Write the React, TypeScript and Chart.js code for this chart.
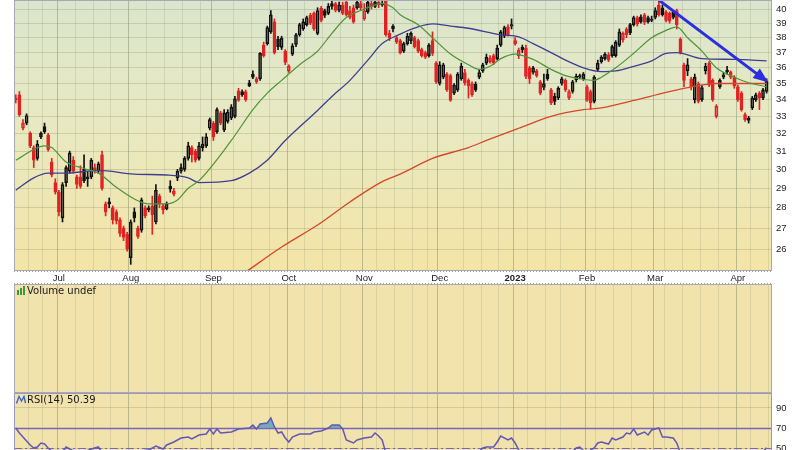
import React, { useEffect, useRef } from 'react';
import { Chart, registerables } from 'chart.js';

Chart.register(...registerables);

// ---------------- data ----------------
const startDate = '2022-06-14';
const marketHolidays = ['2022-06-20', '2022-07-04', '2022-09-05', '2022-11-24', '2022-12-26', '2023-01-02', '2023-01-16', '2023-02-20', '2023-04-07'];
const slotCount = 211;
const monthTickLabels = ['Jul', 'Aug', 'Sep', 'Oct', 'Nov', 'Dec', '2023', 'Feb', 'Mar', 'Apr'];
const priceTicks = [26, 27, 28, 29, 30, 31, 32, 33, 34, 35, 36, 37, 38, 39, 40];
const priceMin = 25;
const priceMax = 40.66;
const rsiTicks = [90, 70, 50, 30, 10];
const rsiUpper = 70;
const rsiMid = 50;
const rsiMin = -5;
const rsiMax = 105;
const volumeTitle = 'Volume undef';
const rsiTitle = 'RSI(14) 50.39';

const opens = [
  34.1, 34.3, 32.3, 32.6, 32.0, 31.2, 30.6, 31.8, 32.4, 31.9,
  30.4, 29.3, 28.8, 27.5, 29.3, 29.9, 30.5, 29.6, 29.6, 30.0,
  29.6, 29.6, 30.1, 29.9, 30.8, 28.2, 28.3, 28.0, 27.8, 27.4,
  27.0, 26.7, 25.6, 27.8, 27.0, 26.9, 28.0, 28.0, 28.1, 27.3,
  28.6, 28.1, 27.95, 29.1, 28.7, 29.55, 29.9, 30.0, 30.6, 31.2,
  31.0, 30.6, 31.2, 31.3, 32.3, 32.6, 32.1, 33.2, 32.2, 32.7,
  32.9, 33.0, 34.55, 34.5, 34.5, 35.05, 35.4, 35.3, 35.3, 37.5,
  37.6, 38.4, 39.1, 37.9, 37.35, 37.1, 35.8, 36.9, 37.55, 38.2,
  38.6, 38.9, 39.55, 39.7, 38.3, 40.05, 39.9, 39.7, 40.2, 40.4,
  39.9, 40.3, 40.5, 39.9, 40.1, 40.1, 40.4, 39.3, 39.8, 40.4,
  40.2, 40.5, 40.3, 40.6, 38.3, 38.8, 38.0, 37.8, 37.1, 37.6,
  37.8, 38.0, 37.8, 37.2, 37.0, 36.8, 37.8, 36.3, 35.0, 35.4,
  35.6, 35.5, 34.4, 34.6, 35.3, 35.7, 35.2, 35.0, 34.95, 35.4,
  35.8, 36.3, 36.4, 36.8, 36.6, 37.5, 38.1, 38.75, 38.8, 37.6,
  36.8, 37.35, 37.3, 36.0, 35.7, 35.8, 35.1, 34.75, 35.6, 34.6,
  34.2, 34.1, 35.0, 35.2, 34.1, 34.5, 35.45, 35.4, 35.3, 34.8,
  34.5, 33.9, 35.9, 36.4, 36.6, 36.85, 36.8, 36.8, 37.5, 37.85,
  38.6, 38.9, 38.9, 39.4, 39.45, 39.6, 39.4, 39.2, 39.4, 40.3,
  40.1, 39.8, 39.7, 39.8, 39.9, 37.9, 36.2, 35.8, 35.3, 34.0,
  35.0, 34.0, 35.8, 36.3, 35.2, 33.0, 34.8, 35.4, 35.85, 35.75,
  35.4, 34.8, 34.4, 33.1, 32.75, 33.5, 34.0, 34.4, 34.1, 34.5,
];
const highs = [
  34.3, 34.5, 32.8, 33.15, 32.1, 31.3, 31.6, 32.1, 32.6, 32.0,
  30.6, 29.5, 28.9, 29.3, 30.2, 31.0, 30.7, 29.7, 30.2, 30.8,
  29.9, 30.6, 30.3, 30.4, 31.0, 28.3, 28.5, 28.1, 27.9, 27.5,
  27.1, 26.8, 27.4, 28.0, 27.1, 28.5, 28.1, 28.1, 28.6, 29.2,
  28.7, 28.2, 28.3, 29.4, 29.0, 30.0, 30.3, 30.7, 31.5, 31.3,
  31.1, 31.5, 31.8, 32.0, 32.9, 32.7, 33.5, 33.3, 33.4, 33.4,
  33.7, 34.2, 34.7, 34.6, 34.6, 35.2, 35.8, 35.4, 37.0, 37.7,
  38.8, 39.9, 39.3, 38.1, 38.1, 37.2, 36.2, 37.6, 38.3, 39.0,
  39.3, 39.5, 39.7, 39.8, 40.1, 40.2, 40.0, 40.4, 40.6, 40.5,
  40.5, 40.5, 40.7, 40.2, 40.3, 40.7, 40.6, 40.4, 40.7, 40.6,
  40.7, 40.7, 40.7, 40.7, 38.5, 38.9, 38.1, 37.9, 37.7, 38.3,
  38.4, 38.1, 37.9, 37.3, 37.1, 37.6, 38.4, 36.4, 36.4, 36.3,
  35.7, 35.6, 35.0, 35.7, 36.3, 35.9, 35.3, 35.1, 35.1, 35.9,
  36.3, 36.9, 36.8, 36.9, 37.5, 38.5, 38.8, 38.9, 39.3, 38.0,
  37.3, 37.5, 37.5, 36.1, 36.1, 35.9, 35.2, 35.6, 35.9, 34.7,
  34.4, 34.8, 35.4, 35.3, 34.6, 35.2, 35.6, 35.6, 35.7, 34.9,
  34.6, 35.5, 36.5, 36.8, 37.0, 37.0, 37.5, 37.8, 38.6, 38.4,
  38.7, 39.0, 39.5, 39.5, 39.6, 39.7, 39.5, 39.5, 40.1, 40.65,
  40.3, 39.9, 39.8, 39.9, 40.0, 38.0, 36.3, 36.6, 35.4, 35.6,
  35.1, 34.9, 36.3, 36.4, 35.3, 33.7, 35.3, 35.7, 36.1, 35.8,
  35.5, 34.9, 34.5, 33.2, 33.0, 34.2, 34.4, 34.5, 34.7, 35.3,
];
const lows = [
  33.8, 33.0, 32.2, 32.5, 31.2, 30.1, 30.5, 31.7, 32.0, 31.0,
  29.6, 28.7, 27.6, 27.3, 29.1, 29.8, 29.8, 29.0, 29.0, 29.3,
  29.1, 29.5, 29.8, 29.8, 28.9, 27.6, 28.0, 27.2, 27.2, 26.6,
  26.4, 25.9, 25.3, 27.3, 26.5, 26.8, 27.5, 27.8, 26.7, 27.2,
  28.0, 27.7, 27.9, 28.8, 28.6, 29.4, 29.8, 29.9, 30.5, 30.4,
  30.4, 30.5, 31.0, 31.2, 32.2, 31.6, 32.0, 32.5, 32.1, 32.6,
  32.8, 32.9, 33.9, 34.2, 33.9, 34.8, 35.3, 35.0, 35.2, 36.7,
  37.5, 38.3, 36.9, 37.2, 37.2, 36.2, 35.7, 36.8, 37.4, 38.1,
  38.5, 38.8, 38.9, 38.5, 38.2, 39.1, 39.4, 39.6, 40.0, 39.8,
  39.8, 39.6, 39.5, 39.3, 39.0, 40.0, 39.9, 39.2, 39.7, 40.0,
  40.1, 40.1, 40.2, 38.1, 37.8, 38.4, 37.6, 36.9, 37.0, 37.5,
  37.6, 37.3, 37.0, 36.7, 36.6, 36.7, 36.8, 35.0, 34.9, 35.3,
  34.5, 33.9, 34.3, 34.5, 35.2, 34.9, 34.1, 34.2, 34.5, 35.3,
  35.7, 36.2, 36.3, 36.2, 36.5, 37.4, 38.0, 38.1, 38.6, 37.5,
  36.6, 37.0, 35.3, 35.0, 35.6, 35.4, 34.3, 34.6, 35.2, 33.7,
  33.7, 34.0, 34.9, 34.5, 34.0, 34.4, 35.1, 35.3, 35.2, 33.9,
  33.4, 33.8, 35.8, 36.3, 36.5, 36.4, 36.7, 36.7, 37.4, 37.7,
  38.0, 38.2, 38.8, 38.8, 39.0, 38.9, 39.0, 39.1, 39.3, 39.5,
  39.5, 39.1, 39.0, 39.3, 38.6, 36.9, 34.8, 35.5, 34.6, 33.8,
  33.8, 33.9, 35.6, 34.8, 33.9, 32.9, 34.7, 35.3, 35.6, 35.3,
  34.7, 33.9, 33.3, 32.7, 32.6, 33.4, 33.9, 33.4, 34.0, 34.4,
];
const closes = [
  34.0, 33.1, 32.6, 33.05, 31.3, 30.5, 31.4, 32.0, 32.1, 31.1,
  29.7, 28.8, 27.8, 29.2, 30.1, 30.9, 29.9, 29.2, 29.1, 29.4,
  29.5, 30.5, 29.9, 30.3, 29.0, 27.8, 28.2, 27.4, 27.35, 26.75,
  26.55, 26.0, 27.3, 27.5, 26.6, 28.4, 27.6, 27.9, 27.65, 28.9,
  28.2, 27.9, 28.2, 28.95, 28.85, 29.9, 30.1, 30.6, 31.3, 30.8,
  30.5, 31.3, 31.4, 31.8, 32.8, 31.8, 33.4, 32.6, 33.2, 33.25,
  33.55, 34.05, 33.95, 34.3, 34.0, 34.85, 35.6, 35.1, 36.95, 36.8,
  38.7, 39.6, 37.0, 37.4, 37.95, 36.35, 36.1, 37.45, 38.2, 38.9,
  39.1, 39.4, 39.0, 38.6, 39.9, 39.2, 39.55, 40.2, 40.4, 39.9,
  40.3, 39.7, 39.6, 39.4, 39.1, 40.5, 40.1, 39.9, 40.5, 40.2,
  40.5, 40.3, 40.4, 38.2, 38.0, 38.6, 37.7, 37.0, 37.6, 38.1,
  38.3, 37.4, 37.1, 36.8, 36.7, 37.5, 36.95, 35.1, 36.2, 36.2,
  34.6, 33.95, 34.9, 35.6, 36.1, 35.05, 34.85, 34.3, 34.6, 35.7,
  36.2, 36.7, 36.65, 36.3, 37.3, 38.4, 38.7, 38.2, 38.9, 37.8,
  37.15, 37.2, 35.45, 35.3, 36.0, 35.5, 34.4, 35.0, 35.3, 33.8,
  33.9, 34.7, 35.3, 34.6, 34.5, 35.1, 35.25, 35.5, 35.6, 33.95,
  33.8, 35.4, 36.3, 36.7, 36.9, 36.5, 37.4, 37.7, 38.4, 38.3,
  38.2, 38.35, 39.4, 38.95, 39.1, 39.05, 39.1, 39.3, 39.9, 39.6,
  39.6, 39.2, 39.15, 39.4, 38.9, 37.0, 35.2, 36.2, 34.8, 35.4,
  33.9, 34.75, 36.1, 34.9, 34.0, 33.6, 35.2, 35.55, 35.75, 35.4,
  34.85, 34.0, 33.4, 32.8, 32.9, 34.1, 34.3, 34.1, 34.6, 35.15,
];

// moving averages (slot index, value)
const maShortSlots = [0, 8, 10, 14, 19, 23, 28, 33, 37, 42, 45, 48, 51, 60, 66, 70, 74, 79, 84, 88, 92, 96, 102, 105, 107, 112, 116, 121, 126, 129, 132, 135, 139, 144, 149, 153, 157, 161, 163, 167, 172, 177, 181, 184, 187, 191, 195, 200, 204, 209];
const maShortValues = [30.5, 31.3, 31.2, 30.4, 30.05, 29.8, 29.05, 28.45, 28.2, 28.2, 28.4, 29.0, 29.4, 31.6, 33.4, 34.4, 35.2, 36.2, 37.1, 38.3, 39.4, 39.9, 40.4, 40.1, 39.6, 38.9, 38.0, 36.9, 36.2, 35.9, 36.1, 36.6, 36.9, 36.55, 35.9, 35.5, 35.3, 35.2, 35.4, 36.0, 36.95, 38.0, 38.5, 38.75, 38.0, 37.1, 36.0, 35.4, 35.05, 34.8];
const maMidSlots = [0, 5, 9, 14, 23, 33, 42, 48, 51, 60, 65, 70, 75, 84, 88, 93, 98, 102, 107, 112, 116, 121, 126, 135, 140, 144, 149, 153, 158, 163, 167, 172, 177, 181, 184, 191, 200, 209];
const maMidValues = [28.9, 29.55, 29.8, 29.8, 29.95, 29.75, 29.7, 29.55, 29.3, 29.4, 29.8, 30.5, 31.6, 33.35, 34.2, 35.2, 36.5, 37.6, 38.25, 38.75, 38.95, 38.8, 38.65, 38.2, 38.05, 37.6, 37.0, 36.5, 36.0, 35.75, 35.8, 36.1, 36.45, 36.95, 37.0, 36.6, 36.55, 36.45];
const maLongSlots = [64, 74, 84, 93, 102, 107, 116, 126, 131, 140, 149, 158, 163, 172, 181, 186, 191, 195, 200, 209];
const maLongValues = [24.95, 26.1, 27.15, 28.3, 29.35, 29.75, 30.6, 31.2, 31.6, 32.3, 33.0, 33.4, 33.5, 33.95, 34.45, 34.7, 34.9, 35.0, 35.0, 35.0];
const trendSlots = [179, 209];
const trendValues = [40.65, 35.15];

const rsiSlots = [0, 1, 2, 4, 5, 6, 7, 8, 9, 11, 13, 14, 16, 19, 21, 23, 24, 26, 28, 31, 32, 34, 35, 37, 39, 41, 42, 44, 46, 48, 49, 51, 53, 54, 55, 56, 57, 60, 62, 65, 66, 67, 68, 70, 71, 72, 73, 74, 75, 76, 77, 79, 82, 83, 85, 87, 88, 90, 91, 92, 94, 95, 97, 99, 100, 101, 102, 103, 105, 107, 110, 113, 116, 117, 119, 121, 124, 126, 128, 130, 131, 133, 134, 135, 137, 138, 139, 140, 142, 144, 146, 148, 149, 152, 154, 156, 157, 159, 160, 161, 162, 163, 165, 166, 167, 169, 170, 171, 172, 173, 175, 176, 177, 179, 180, 181, 183, 184, 185, 186, 188, 190, 192, 194, 195, 197, 199, 201, 203, 204, 206, 208, 209];
const rsiValues = [70, 65, 61, 53, 50, 51, 55, 54, 50, 44, 46, 51, 47, 46, 49, 51, 45, 40, 38, 33, 42, 40, 47, 48, 52, 49, 53, 56, 60, 61, 59, 63, 64, 69, 64, 69, 65, 66, 69, 70, 73, 69, 74, 75, 80, 71, 65, 66, 60, 56, 61, 64, 64, 66, 67, 70, 73, 73, 69, 58, 55, 58, 60, 61, 65, 62, 58, 45, 42, 38, 42, 38, 40, 34, 40, 33, 42, 40, 43, 50, 51, 51, 56, 62, 58, 60, 55, 48, 38, 41, 35, 40, 33, 44, 42, 50, 51, 44, 48, 50, 55, 56, 54, 60, 58, 61, 65, 64, 69, 63, 66, 63, 68, 70, 61, 61, 60, 55, 45, 38, 42, 38, 46, 40, 34, 44, 45, 38, 32, 33, 44, 46, 50.39];

// ---------------- helpers ----------------
function pad(n: number) { return n < 10 ? '0' + n : '' + n; }
function buildDays() {
  const [y, m, d] = startDate.split('-').map(Number);
  const cur = new Date(y, m - 1, d, 12);
  const out: { iso: string; dow: number; month: number }[] = [];
  while (out.length < slotCount) {
    const iso = `${cur.getFullYear()}-${pad(cur.getMonth() + 1)}-${pad(cur.getDate())}`;
    const dow = cur.getDay();
    if (dow !== 0 && dow !== 6 && !marketHolidays.includes(iso)) out.push({ iso, dow, month: cur.getMonth() });
    cur.setDate(cur.getDate() + 1);
  }
  return out;
}
const days = buildDays();
const labels = days.map((d) => d.iso);
const monthLabelAt: string[] = new Array(slotCount).fill('');
const lineKind: number[] = new Array(slotCount + 1).fill(0);
{
  let mi = 0;
  for (let i = 1; i < slotCount; i++) {
    if (days[i].month !== days[i - 1].month) { monthLabelAt[i] = monthTickLabels[mi++] || ''; lineKind[i] = 2; }
  }
  for (let i = 1; i < slotCount; i++) {
    if (days[i].dow <= days[i - 1].dow && lineKind[i] === 0) {
      let near = false;
      for (let k = -2; k <= 2; k++) if (lineKind[i + k] === 2) near = true;
      if (!near) lineKind[i] = 1;
    }
  }
}
const vGridColor = (c: any) => lineKind[c.index] === 2 ? 'rgba(120,132,98,0.45)' : lineKind[c.index] === 1 ? 'rgba(135,145,115,0.22)' : 'rgba(0,0,0,0)';

const pts = (slots: number[], vals: number[]) => slots.map((s, k) => ({ x: labels[s], y: vals[k] }));

const FONT = '"Liberation Sans", Arial, sans-serif';

function xAxis(showLabels: boolean) {
  return {
    type: 'category',
    offset: true,
    grid: { offset: true, drawTicks: false, color: vGridColor, lineWidth: 1 },
    border: { display: false },
    ticks: showLabels
      ? {
          autoSkip: false, maxRotation: 0, minRotation: 0, padding: 2, color: '#222',
          font: (c: any) => ({ family: FONT, size: 9.5, weight: monthLabelAt[c.index] === '2023' ? 'bold' : 'normal' }),
          callback: (_v: any, i: number) => monthLabelAt[i] || '',
        }
      : { display: false },
    afterFit: (s: any) => { s.height = showLabels ? 13 : 0; s.paddingLeft = 0; s.paddingRight = 0; },
  };
}

function panelPlugin(id: string, fill: (ctx: CanvasRenderingContext2D, a: any) => any, border: string) {
  return {
    id,
    beforeDraw(chart: any) {
      const { ctx, chartArea: a } = chart;
      ctx.save();
      ctx.fillStyle = fill(ctx, a);
      ctx.fillRect(a.left, a.top, a.right - a.left, a.bottom - a.top);
      ctx.restore();
    },
    afterDraw(chart: any) {
      const { ctx, chartArea: a } = chart;
      ctx.save();
      ctx.strokeStyle = border;
      ctx.lineWidth = 1;
      ctx.strokeRect(Math.round(a.left) + 0.5, Math.round(a.top) + 0.5, Math.round(a.right - a.left) - 1, Math.round(a.bottom - a.top) - 1);
      ctx.restore();
    },
  };
}

export default function App() {
  const priceRef = useRef<HTMLCanvasElement>(null);
  const volRef = useRef<HTMLCanvasElement>(null);
  const rsiRef = useRef<HTMLCanvasElement>(null);

  useEffect(() => {
    const charts: Chart[] = [];
    const prevClose = (i: number) => (i === 0 ? opens[0] : closes[i - 1]);
    const candleColor = closes.map((c, i) => (c < prevClose(i) ? '#e12222' : '#111111'));
    const bodyFill = closes.map((c, i) => (c < opens[i] ? candleColor[i] : 'rgba(0,0,0,0)'));
    const bodyLo = opens.map((o, i) => Math.min(o, closes[i]));
    const bodyHi = opens.map((o, i) => Math.max(o, closes[i]));

    const trendColor = '#2a2ee0';

    const pricePlugin = {
      id: 'priceExtras',
      afterDatasetsDraw(chart: any) {
        const idx = chart.data.datasets.findIndex((d: any) => d.label === 'trend');
        const meta = chart.getDatasetMeta(idx);
        const els = meta.data;
        if (els.length < 2) return;
        const p0 = els[els.length - 2];
        const p1 = els[els.length - 1];
        const ang = Math.atan2(p1.y - p0.y, p1.x - p0.x);
        const L = 13, W = 6;
        const c = Math.cos(ang), s = Math.sin(ang);
        const { ctx } = chart;
        ctx.save();
        ctx.fillStyle = trendColor;
        ctx.beginPath();
        ctx.moveTo(p1.x + 2 * c, p1.y + 2 * s);
        ctx.lineTo(p1.x - L * c + W * s, p1.y - L * s - W * c);
        ctx.lineTo(p1.x - L * c - W * s, p1.y - L * s + W * c);
        ctx.closePath();
        ctx.fill();
        ctx.restore();
      },
      afterDraw(chart: any) {
        const { ctx, chartArea: a, height } = chart;
        ctx.save();
        ctx.strokeStyle = '#9a9a9a';
        ctx.lineWidth = 1;
        ctx.setLineDash([1, 2]);
        [a.bottom + 0.5, height - 0.5].forEach((y) => {
          ctx.beginPath();
          ctx.moveTo(a.left, y);
          ctx.lineTo(a.right, y);
          ctx.stroke();
        });
        ctx.restore();
      },
    };

    const barCommon = { grouped: false, barThickness: 1, borderWidth: 0 };

    charts.push(
      new Chart(priceRef.current!, {
        type: 'bar',
        data: {
          labels,
          datasets: [
            { ...barCommon, label: 'wickUp', data: highs.map((h, i) => [bodyHi[i], h]), backgroundColor: candleColor, order: 6 } as any,
            { ...barCommon, label: 'wickDown', data: lows.map((l, i) => [l, bodyLo[i]]), backgroundColor: candleColor, order: 6 } as any,
            {
              label: 'body', grouped: false, barThickness: 3, minBarLength: 1,
              data: bodyLo.map((lo, i) => [lo, bodyHi[i]]),
              backgroundColor: bodyFill, borderColor: candleColor, borderWidth: 1, borderSkipped: false, order: 5,
            } as any,
            { type: 'line', label: 'maLong', data: pts(maLongSlots, maLongValues), borderColor: '#d4482a', borderWidth: 1.3, pointRadius: 0, cubicInterpolationMode: 'monotone', order: 3 } as any,
            { type: 'line', label: 'maMid', data: pts(maMidSlots, maMidValues), borderColor: '#3f3f92', borderWidth: 1.3, pointRadius: 0, cubicInterpolationMode: 'monotone', order: 3 } as any,
            { type: 'line', label: 'maShort', data: pts(maShortSlots, maShortValues), borderColor: '#4f9438', borderWidth: 1.2, pointRadius: 0, cubicInterpolationMode: 'monotone', order: 2 } as any,
            { type: 'line', label: 'trend', data: pts(trendSlots, trendValues), borderColor: trendColor, borderWidth: 3, pointRadius: 0, order: 0 } as any,
          ],
        },
        options: {
          responsive: false,
          animation: false,
          devicePixelRatio: 1,
          events: [],
          layout: { padding: { left: 14, right: 0, top: 0, bottom: 0 } },
          plugins: { legend: { display: false }, tooltip: { enabled: false } },
          scales: {
            x: xAxis(true) as any,
            y: {
              type: 'logarithmic',
              position: 'right',
              min: priceMin,
              max: priceMax,
              afterBuildTicks: (s: any) => { s.ticks = priceTicks.map((v) => ({ value: v })); },
              afterFit: (s: any) => { s.width = 28; s.paddingTop = 0; s.paddingBottom = 0; },
              grid: { drawTicks: false, color: 'rgba(125,140,105,0.28)' },
              border: { display: false },
              ticks: { padding: 4, color: '#222', font: { family: FONT, size: 9.5 }, callback: (v: any) => String(v) },
            } as any,
          },
        },
        plugins: [
          panelPlugin('priceBg', (ctx, a) => {
            const g = ctx.createLinearGradient(0, a.top, 0, a.bottom);
            g.addColorStop(0, '#dbe5cc');
            g.addColorStop(0.45, '#e8e9c2');
            g.addColorStop(1, '#f4e4a6');
            return g;
          }, '#a6a9b2'),
          pricePlugin,
        ],
      } as any)
    );

    charts.push(
      new Chart(volRef.current!, {
        type: 'bar',
        data: { labels, datasets: [] },
        options: {
          responsive: false,
          animation: false,
          devicePixelRatio: 1,
          events: [],
          layout: { padding: { left: 14, right: 0, top: 0, bottom: 0 } },
          plugins: { legend: { display: false }, tooltip: { enabled: false } },
          scales: {
            x: xAxis(false) as any,
            y: {
              position: 'right',
              grid: { display: false },
              border: { display: false },
              ticks: { display: false },
              afterFit: (s: any) => { s.width = 28; s.paddingTop = 0; s.paddingBottom = 0; },
            } as any,
          },
        },
        plugins: [panelPlugin('volBg', () => '#f2e2ac', '#a8a8b6')],
      } as any)
    );

    const rsiLines = {
      id: 'rsiLines',
      beforeDatasetsDraw(chart: any) {
        const { ctx, chartArea: a, scales } = chart;
        const y70 = Math.round(scales.y.getPixelForValue(rsiUpper)) + 0.5;
        const y50 = Math.round(scales.y.getPixelForValue(rsiMid)) + 0.5;
        ctx.save();
        ctx.strokeStyle = '#7567bd';
        ctx.lineWidth = 1.5;
        ctx.beginPath(); ctx.moveTo(a.left, y70); ctx.lineTo(a.right, y70); ctx.stroke();
        ctx.lineWidth = 1.2;
        ctx.setLineDash([8, 3, 2, 3]);
        ctx.beginPath(); ctx.moveTo(a.left, y50); ctx.lineTo(a.right, y50); ctx.stroke();
        ctx.restore();
      },
    };

    charts.push(
      new Chart(rsiRef.current!, {
        type: 'line',
        data: {
          labels,
          datasets: [
            {
              label: 'rsi',
              data: pts(rsiSlots, rsiValues),
              borderColor: '#6258b4',
              borderWidth: 1.5,
              pointRadius: 0,
              tension: 0,
              fill: { target: { value: rsiUpper }, above: 'rgba(84,158,196,0.8)', below: 'rgba(0,0,0,0)' },
            } as any,
          ],
        },
        options: {
          responsive: false,
          animation: false,
          devicePixelRatio: 1,
          events: [],
          layout: { padding: { left: 14, right: 0, top: 0, bottom: 0 } },
          plugins: { legend: { display: false }, tooltip: { enabled: false } },
          scales: {
            x: xAxis(false) as any,
            y: {
              position: 'right',
              min: rsiMin,
              max: rsiMax,
              afterBuildTicks: (s: any) => { s.ticks = rsiTicks.map((v) => ({ value: v })); },
              afterFit: (s: any) => { s.width = 28; s.paddingTop = 0; s.paddingBottom = 0; },
              grid: { drawTicks: false, color: 'rgba(150,140,110,0.3)' },
              border: { display: false },
              ticks: { padding: 4, color: '#222', font: { family: FONT, size: 9.5 } },
            } as any,
          },
        },
        plugins: [panelPlugin('rsiBg', () => '#f2e2ac', '#9a98bc'), rsiLines],
      } as any)
    );

    return () => charts.forEach((c) => c.destroy());
  }, []);

  const labelStyle: React.CSSProperties = {
    position: 'absolute', left: 27, fontFamily: '"DejaVu Sans", Verdana, sans-serif', fontSize: 10, lineHeight: '12px', color: '#1a1a1a', whiteSpace: 'nowrap',
  };

  return (
    <div style={{ position: 'fixed', left: 0, top: 0, width: 800, height: 450, overflow: 'hidden', background: '#ffffff' }}>
      <canvas ref={priceRef} width={800} height={284} style={{ position: 'absolute', left: 0, top: 0 }} />
      <canvas ref={volRef} width={800} height={109} style={{ position: 'absolute', left: 0, top: 284 }} />
      <canvas ref={rsiRef} width={800} height={110} style={{ position: 'absolute', left: 0, top: 393 }} />
      <svg width={9} height={9} style={{ position: 'absolute', left: 17, top: 286 }}>
        <rect x={0} y={4} width={2} height={5} fill="#3c9a3c" />
        <rect x={3} y={2} width={2} height={7} fill="#3c9a3c" />
        <rect x={6} y={0} width={2} height={9} fill="#3c9a3c" />
      </svg>
      <div style={{ ...labelStyle, top: 285 }}>{volumeTitle}</div>
      <svg width={10} height={9} style={{ position: 'absolute', left: 16, top: 395 }}>
        <polyline points="0.5,8.5 3,1.5 5.5,6 8,1.5 9.5,8" fill="none" stroke="#3a68c8" strokeWidth={1.4} />
      </svg>
      <div style={{ ...labelStyle, top: 394 }}>{rsiTitle}</div>
    </div>
  );
}
